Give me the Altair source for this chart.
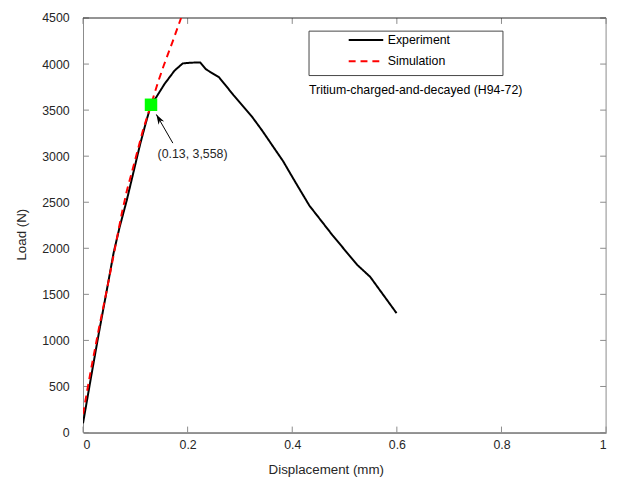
import altair as alt
import pandas as pd

# ---- data ----
exp_x = [0.0, 0.015, 0.030, 0.045, 0.0585, 0.070, 0.0836, 0.092, 0.109, 0.120, 0.130, 0.140,
         0.156, 0.175, 0.1906, 0.206, 0.224, 0.2345, 0.244, 0.260, 0.288, 0.323, 0.3415,
         0.3825, 0.4045, 0.4327, 0.4768, 0.524, 0.549, 0.5994]
exp_y = [100, 590, 1071, 1530, 1950, 2230, 2520, 2720, 3125, 3360, 3558, 3640,
         3785, 3929, 4007, 4015, 4018, 3946, 3911, 3857, 3661, 3429, 3286,
         2946, 2732, 2464, 2143, 1821, 1690, 1296]

sim_x = [0.0, 0.0145, 0.0302, 0.0458, 0.0617, 0.0742, 0.0836, 0.1025, 0.115, 0.130,
         0.1434, 0.1547, 0.1717, 0.1875]
sim_y = [200, 661, 1125, 1554, 2018, 2380, 2620, 3020, 3290, 3558,
         3804, 3990, 4250, 4500]

series_names = ["Experiment", "Simulation"]
series_colors = ["#000000", "#ff0000"]
series_dash = [[1, 0], [7, 5]]

marker_x = [0.13]
marker_y = [3558]
marker_label = ["(0.13, 3,558)"]
label_x = [0.2094]
label_y = [3018]
arrow_tip_x = [0.1402]
arrow_tip_y = [3453]
arrow_tail_x = [0.1717]
arrow_tail_y = [3142]

x_ticks = [0, 0.2, 0.4, 0.6, 0.8, 1.0]
y_ticks = [0, 500, 1000, 1500, 2000, 2500, 3000, 3500, 4000, 4500]

note_text = "Tritium-charged-and-decayed (H94-72)"

W, H = 530, 420
FONT = "Liberation Sans"
TXT = "#262626"

df = pd.concat([
    pd.DataFrame({"x": exp_x, "y": exp_y, "series": "Experiment", "i": range(len(exp_x))}),
    pd.DataFrame({"x": sim_x, "y": sim_y, "series": "Simulation", "i": range(len(sim_x))}),
])

xs = alt.Scale(domain=[0, 1], nice=False, zero=False)
ys = alt.Scale(domain=[0, 4500], nice=False, zero=False)

x_axis = alt.Axis(values=x_ticks, format="~g", title="Displacement (mm)", ticks=False, tickSize=0,
                  grid=False, domainColor=TXT, domainWidth=1, labelFont=FONT, labelFontSize=12.5,
                  labelColor=TXT, labelPadding=6, titleFont=FONT, titleFontSize=13.5,
                  titleFontWeight="normal", titleColor=TXT, titleX=246, titleY=38,
                  titleBaseline="middle", titleAlign="center")
y_axis = alt.Axis(values=y_ticks, format="d", title="Load (N)", ticks=False, tickSize=0,
                  grid=False, domainColor="#8a8a8a", domainWidth=1, labelFont=FONT,
                  labelFontSize=12.5, labelColor=TXT, labelPadding=14, titleFont=FONT,
                  titleFontSize=13.5, titleFontWeight="normal", titleColor=TXT, titleX=-62,
                  titleY=219, titleBaseline="middle", titleAlign="center", titleAngle=270)

leg = alt.Legend(title=None, orient="none", legendX=279.7, legendY=15.2,
                 symbolType="M-3,0H3", symbolSize=136, symbolStrokeWidth=2,
                 labelFont=FONT, labelFontSize=12.5, labelColor="#000000",
                 labelOffset=15, rowPadding=7.7, padding=0)

lines = alt.Chart(df).mark_line(strokeWidth=2, clip=True).encode(
    x=alt.X("x:Q", scale=xs, axis=x_axis),
    y=alt.Y("y:Q", scale=ys, axis=y_axis),
    color=alt.Color("series:N", scale=alt.Scale(domain=series_names, range=series_colors), legend=leg),
    strokeDash=alt.StrokeDash("series:N", scale=alt.Scale(domain=series_names, range=series_dash), legend=leg),
    order="i:Q",
)

one = pd.DataFrame({"a": [0]})

# frame: top and right edges
top_edge = alt.Chart(one).mark_rule(color=TXT, strokeWidth=1).encode(
    x=alt.value(0), x2=alt.value(W), y=alt.value(0))
right_edge = alt.Chart(one).mark_rule(color="#8a8a8a", strokeWidth=1).encode(
    x=alt.value(W), y=alt.value(0), y2=alt.value(H))

# inward ticks
xt = pd.DataFrame({"t": x_ticks})
yt = pd.DataFrame({"t": y_ticks})
TL = 6
xt_bot = alt.Chart(xt).mark_rule(color="#8a8a8a").encode(
    x=alt.X("t:Q", scale=xs), y=alt.value(H), y2=alt.value(H - TL))
xt_top = alt.Chart(xt).mark_rule(color="#8a8a8a").encode(
    x=alt.X("t:Q", scale=xs), y=alt.value(0), y2=alt.value(TL))
yt_left = alt.Chart(yt).mark_rule(color="#8a8a8a").encode(
    y=alt.Y("t:Q", scale=ys), x=alt.value(0), x2=alt.value(TL))
yt_right = alt.Chart(yt).mark_rule(color="#8a8a8a").encode(
    y=alt.Y("t:Q", scale=ys), x=alt.value(W), x2=alt.value(W - TL))

# legend box and note
box = alt.Chart(one).mark_rect(fill=None, stroke="#444444", strokeWidth=1).encode(
    x=alt.value(229), x2=alt.value(425.5), y=alt.value(13.3), y2=alt.value(58.3))
note = alt.Chart(pd.DataFrame({"t": [note_text]})).mark_text(
    font=FONT, fontSize=12.5, color="#000000", align="left", baseline="middle").encode(
    x=alt.value(229), y=alt.value(73.3), text="t:N")

# marker and annotation
mk = pd.DataFrame({"x": marker_x, "y": marker_y})
marker = alt.Chart(mk).mark_point(shape="square", filled=True, color="#00ff00", size=160, opacity=1).encode(
    x=alt.X("x:Q", scale=xs), y=alt.Y("y:Q", scale=ys))

ar = pd.DataFrame({"x": arrow_tail_x, "y": arrow_tail_y, "x2": arrow_tip_x, "y2": arrow_tip_y})
arrow_line = alt.Chart(ar).mark_rule(color="#000000", strokeWidth=1).encode(
    x=alt.X("x:Q", scale=xs), y=alt.Y("y:Q", scale=ys), x2="x2:Q", y2="y2:Q")
arrow_head = alt.Chart(ar).mark_point(
    shape="M0,0L0.55,1.7L0,1.2L-0.55,1.7Z", filled=True, color="#000000", size=144,
    angle=330, opacity=1).encode(
    x=alt.X("x2:Q", scale=xs), y=alt.Y("y2:Q", scale=ys))

lbl = pd.DataFrame({"x": label_x, "y": label_y, "t": marker_label})
label = alt.Chart(lbl).mark_text(font=FONT, fontSize=12.5, color=TXT, align="center",
                                 baseline="middle").encode(
    x=alt.X("x:Q", scale=xs), y=alt.Y("y:Q", scale=ys), text="t:N")

chart = alt.layer(
    xt_bot, xt_top, yt_left, yt_right, top_edge, right_edge,
    lines, marker, arrow_line, arrow_head, label, box, note,
).properties(
    width=W, height=H,
    autosize=alt.AutoSizeParams(type="none"),
    padding={"left": 76, "top": 7, "right": 7, "bottom": 48},
).configure_view(stroke=None)

chart.save("out.html", embed_options={"renderer": "svg", "actions": False})
